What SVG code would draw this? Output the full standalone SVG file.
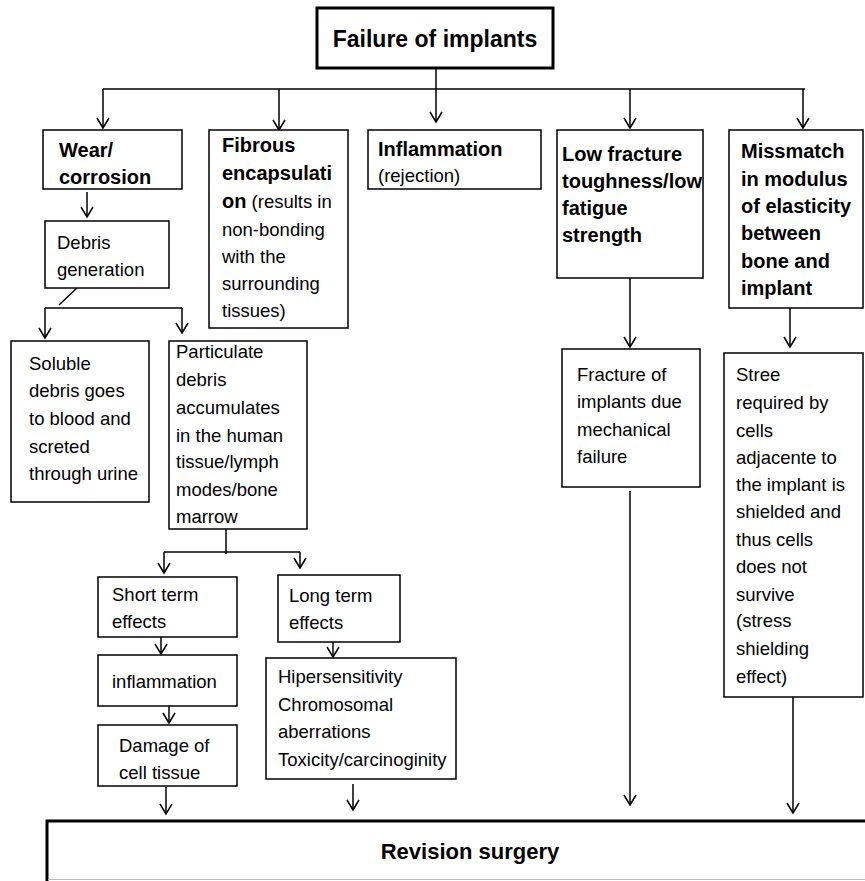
<svg xmlns="http://www.w3.org/2000/svg" width="865" height="881" viewBox="0 0 865 881">
<style>
.b{fill:#fff;stroke:#000;stroke-width:1.5}
.tb{fill:#fff;stroke:#000;stroke-width:3}
.t{font-family:"Liberation Sans",Arial,sans-serif;font-size:18.5px;fill:#000}
.h{font-family:"Liberation Sans",Arial,sans-serif;font-size:20px;font-weight:bold;fill:#000}
.c{fill:none;stroke:#000;stroke-width:1.5}
.a{fill:none;stroke:#000;stroke-width:1.5;marker-end:url(#ah)}
</style>
<defs>
<marker id="ah" markerUnits="userSpaceOnUse" markerWidth="14" markerHeight="16" viewBox="-12 -8 14 16" refX="0" refY="0" orient="auto">
<path d="M-10,-6 L0,0 L-10,6" fill="none" stroke="#000" stroke-width="1.5"/>
</marker>
</defs>
<rect width="865" height="881" fill="#fff"/>
<g id="connectors">
<path class="c" d="M103,89 H805"/>
<path class="a" d="M436,68 V122"/>
<path class="a" d="M103,89 V128"/>
<path class="a" d="M279,89 V130"/>
<path class="a" d="M630,89 V128"/>
<path class="a" d="M803,89 V128"/>
<path class="a" d="M87,192 V217"/>
<path class="c" d="M78,287 L59,305"/>
<path class="c" d="M45,308 H182"/>
<path class="a" d="M45,308 V338"/>
<path class="a" d="M182,308 V333"/>
<path class="c" d="M226,529 V554"/>
<path class="c" d="M164,552 H300"/>
<path class="a" d="M164,552 V573"/>
<path class="a" d="M300,552 V568"/>
<path class="a" d="M161,637 V654"/>
<path class="a" d="M169,706 V723"/>
<path class="a" d="M166,787 V814"/>
<path class="a" d="M333,642 V657"/>
<path class="a" d="M353,784 V810"/>
<path class="a" d="M630,278 V347"/>
<path class="a" d="M630,491 V805"/>
<path class="a" d="M790,308 V347"/>
<path class="a" d="M793,697 V813"/>
</g>
<g id="title">
<rect class="tb" x="317" y="8" width="236" height="60"/>
<text x="435" y="47" text-anchor="middle" font-family="Liberation Sans,Arial,sans-serif" font-size="23" font-weight="bold">Failure of implants</text>
</g>
<g id="wear">
<rect class="b" x="43" y="130" width="139" height="59"/>
<text class="h" x="59" y="157">Wear/</text>
<text class="h" x="59" y="184">corrosion</text>
</g>
<g id="fibrous">
<rect class="b" x="209" y="130" width="139" height="198"/>
<text class="h" x="222" y="152">Fibrous</text>
<text class="h" x="222" y="180">encapsulati</text>
<text class="t" x="222" y="208"><tspan font-weight="bold" font-size="20">on</tspan> (results in</text>
<text class="t" x="222" y="236">non-bonding</text>
<text class="t" x="222" y="263">with the</text>
<text class="t" x="222" y="290">surrounding</text>
<text class="t" x="222" y="317">tissues)</text>
</g>
<g id="inflammation">
<rect class="b" x="368" y="130" width="173" height="59"/>
<text class="h" x="378" y="156">Inflammation</text>
<text class="t" x="378" y="182">(rejection)</text>
</g>
<g id="lowfracture">
<rect class="b" x="557" y="130" width="146" height="148"/>
<text class="h" x="562" y="161">Low fracture</text>
<text class="h" x="562" y="188">toughness/low</text>
<text class="h" x="562" y="215">fatigue</text>
<text class="h" x="562" y="242">strength</text>
</g>
<g id="missmatch">
<rect class="b" x="729" y="130" width="134" height="178"/>
<text class="h" x="741" y="158">Missmatch</text>
<text class="h" x="741" y="186">in modulus</text>
<text class="h" x="741" y="213">of elasticity</text>
<text class="h" x="741" y="240">between</text>
<text class="h" x="741" y="268">bone and</text>
<text class="h" x="741" y="295">implant</text>
</g>
<g id="debris">
<rect class="b" x="45" y="221" width="124" height="67"/>
<text class="t" x="57" y="249">Debris</text>
<text class="t" x="57" y="276">generation</text>
</g>
<g id="soluble">
<rect class="b" x="11" y="341" width="138" height="161"/>
<text class="t" x="29" y="370">Soluble</text>
<text class="t" x="29" y="397">debris goes</text>
<text class="t" x="29" y="425">to blood and</text>
<text class="t" x="29" y="453">screted</text>
<text class="t" x="29" y="480">through urine</text>
</g>
<g id="particulate">
<rect class="b" x="169" y="341" width="138" height="188"/>
<text class="t" x="176" y="358">Particulate</text>
<text class="t" x="176" y="386">debris</text>
<text class="t" x="176" y="414">accumulates</text>
<text class="t" x="176" y="442">in the human</text>
<text class="t" x="176" y="468">tissue/lymph</text>
<text class="t" x="176" y="496">modes/bone</text>
<text class="t" x="176" y="523">marrow</text>
</g>
<g id="shortterm">
<rect class="b" x="98" y="577" width="139" height="60"/>
<text class="t" x="112" y="601">Short term</text>
<text class="t" x="112" y="628">effects</text>
</g>
<g id="longterm">
<rect class="b" x="278" y="575" width="122" height="67"/>
<text class="t" x="289" y="602">Long term</text>
<text class="t" x="289" y="629">effects</text>
</g>
<g id="inflam2">
<rect class="b" x="98" y="655" width="139" height="51"/>
<text class="t" x="112" y="688">inflammation</text>
</g>
<g id="damage">
<rect class="b" x="98" y="725" width="139" height="61"/>
<text class="t" x="119" y="752">Damage of</text>
<text class="t" x="119" y="779">cell tissue</text>
</g>
<g id="hiper">
<rect class="b" x="266" y="658" width="190" height="121"/>
<text class="t" x="278" y="683">Hipersensitivity</text>
<text class="t" x="278" y="711">Chromosomal</text>
<text class="t" x="278" y="738">aberrations</text>
<text class="t" x="278" y="766">Toxicity/carcinoginity</text>
</g>
<g id="fracture">
<rect class="b" x="562" y="349" width="138" height="138"/>
<text class="t" x="577" y="381">Fracture of</text>
<text class="t" x="577" y="408">implants due</text>
<text class="t" x="577" y="436">mechanical</text>
<text class="t" x="577" y="463">failure</text>
</g>
<g id="stree">
<rect class="b" x="724" y="353" width="139" height="344"/>
<text class="t" x="736" y="381">Stree</text>
<text class="t" x="736" y="409">required by</text>
<text class="t" x="736" y="437">cells</text>
<text class="t" x="736" y="464">adjacente to</text>
<text class="t" x="736" y="491">the implant is</text>
<text class="t" x="736" y="518">shielded and</text>
<text class="t" x="736" y="546">thus cells</text>
<text class="t" x="736" y="573">does not</text>
<text class="t" x="736" y="601">survive</text>
<text class="t" x="736" y="627">(stress</text>
<text class="t" x="736" y="655">shielding</text>
<text class="t" x="736" y="683">effect)</text>
</g>
<g id="revision">
<rect x="47" y="821" width="830" height="58" fill="#fff"/>
<path d="M47,881 V821 H865" fill="none" stroke="#000" stroke-width="3"/>
<path d="M48,879.5 H865" fill="none" stroke="#bbb" stroke-width="1"/>
<text x="470" y="859" text-anchor="middle" font-family="Liberation Sans,Arial,sans-serif" font-size="22" font-weight="bold">Revision surgery</text>
</g>
</svg>
